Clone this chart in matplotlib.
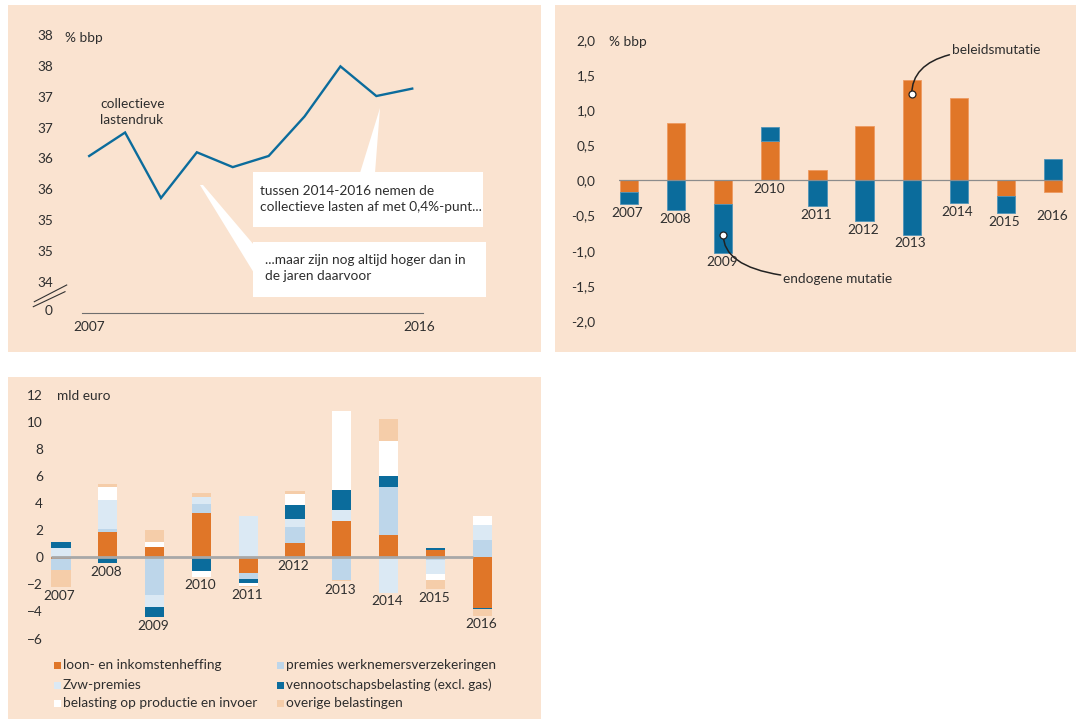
import numpy as np
import matplotlib
matplotlib.use("Agg")
import matplotlib.pyplot as plt
from matplotlib.patches import Rectangle, Polygon

plt.rcParams["font.family"] = ["Lato", "DejaVu Sans"]

# --- data -------------------------------------------------------------
years = [2007, 2008, 2009, 2010, 2011, 2012, 2013, 2014, 2015, 2016]

# collectieve lastendruk (% bbp)
lastendruk = [36.04, 36.42, 35.36, 36.10, 35.86, 36.04, 36.68, 37.49, 37.01, 37.13]

# mutatie lastendruk (% bbp)
beleidsmutatie = [-0.17, 0.82, -0.34, 0.565, 0.15, 0.77, 1.425, 1.18, -0.22, -0.17]
endogene_mutatie = [-0.17, -0.42, -0.69, 0.19, -0.36, -0.58, -0.77, -0.32, -0.24, 0.30]

# beleidsmatige lastenontwikkeling (mld euro)
loon_inkomsten = [-0.12, 1.90, 0.79, 3.30, -1.13, 1.08, 2.71, 1.68, 0.57, -3.77]
premies_wn = [-0.81, 0.22, -2.76, 0.67, -0.44, 1.18, -1.68, 3.55, -0.22, 1.31]
zvw_premies = [0.69, 2.12, -0.89, 0.52, 3.03, 0.59, 0.81, -2.61, -0.99, 1.11]
vpb = [0.47, -0.44, -0.74, -0.99, -0.32, 1.04, 1.48, 0.81, 0.15, -0.07]
productie_invoer = [0.0, 0.99, 0.37, -0.44, -0.20, 0.81, 5.84, 2.59, -0.44, 0.67]
overige = [-1.26, 0.22, 0.89, 0.30, -0.07, 0.22, -0.07, 1.63, -0.67, -0.47]

series_names = [
    "loon- en inkomstenheffing",
    "premies werknemersverzekeringen",
    "Zvw-premies",
    "vennootschapsbelasting (excl. gas)",
    "belasting op productie en invoer",
    "overige belastingen",
]

# --- style ------------------------------------------------------------
BG = "#FAE3D0"
ORANGE = "#E07628"
DARK = "#0B6C9C"
MID = "#BDD6EA"
PALE = "#DBE9F4"
WHITE = "#FFFFFF"
PEACH = "#F5CDA9"
TXT = "#2E2E2E"
FS = 9.8
series_colors = [ORANGE, MID, PALE, DARK, WHITE, PEACH]

W, H = 1078, 721
fig = plt.figure(figsize=(W / 100, H / 100), dpi=100)
fig.patch.set_facecolor("white")


def rect(l, t, r, b):
    return [l / W, 1 - b / H, (r - l) / W, (b - t) / H]


for l, t, r, b in [(8, 5, 541, 352), (555, 5, 1076, 352), (8, 377, 541, 719)]:
    fig.add_artist(Rectangle((l / W, 1 - b / H), (r - l) / W, (b - t) / H,
                             transform=fig.transFigure, facecolor=BG,
                             edgecolor="none", zorder=-1))


def clean(ax):
    ax.set_facecolor("none")
    for s in ax.spines.values():
        s.set_visible(False)
    ax.tick_params(length=0, labelsize=FS, labelcolor=TXT)


# --- top left: collectieve lastendruk -----------------------------------
ax1 = fig.add_axes(rect(82, 20, 423, 313))
clean(ax1)
ax1.plot(years, lastendruk, color=DARK, lw=1.7, solid_joinstyle="miter")
ax1.set_xlim(2006.8, 2016.3)
ax1.set_ylim(33.5, 38.24)
yt = np.arange(34.0, 38.01, 0.5)
ax1.set_yticks([33.55] + list(yt),
               ["0"] + [str(int(np.floor(v + 0.5))) for v in yt])
ax1.tick_params(axis="y", pad=21)
ax1.set_xticks([2007, 2016.2], ["2007", "2016"])
ax1.tick_params(axis="x", pad=6)
ax1.spines["bottom"].set_visible(True)
ax1.spines["bottom"].set_color("#6E6E6E")
ax1.spines["bottom"].set_linewidth(0.8)

# --- top right: mutaties ------------------------------------------------
ax2 = fig.add_axes(rect(619, 20, 1063, 335))
clean(ax2)
x = np.arange(len(years))
bw = 0.39
b_pol = np.array(beleidsmutatie)
e_end = np.array(endogene_mutatie)
ax2.bar(x, b_pol, bw, color=ORANGE, edgecolor="#EE9A60", lw=0.6, zorder=2)
e_base = np.where(np.sign(e_end) == np.sign(b_pol), b_pol, 0)
ax2.bar(x, e_end, bw, bottom=e_base, color=DARK, edgecolor="#4F93B8", lw=0.6, zorder=2)
ax2.axhline(0, color="#8C8C8C", lw=0.9, zorder=3)
ax2.set_xlim(-0.21, 9.21)
ax2.set_ylim(-2.2, 2.285)
yt2 = np.arange(-2.0, 2.01, 0.5)
ax2.set_yticks(yt2, [f"{v:.1f}".replace(".", ",") for v in yt2])
ax2.tick_params(axis="y", pad=17)
ax2.set_xticks([])

label_shift = {2016: 11}
low2 = np.minimum(0, np.minimum(b_pol, 0) + np.minimum(e_end, 0))
for xi, yr, lo in zip(x, years, low2):
    ax2.annotate(str(yr), (xi, lo), xytext=(-1, -2 - label_shift.get(yr, 0)),
                 textcoords="offset points", ha="center", va="top",
                 fontsize=FS, color=TXT)

ax2.annotate("beleidsmutatie", xy=(6, 1.225), xytext=(6.86, 1.86),
             fontsize=FS, color=TXT, va="center", ha="left",
             arrowprops=dict(arrowstyle="-", color="#222222", lw=1.1,
                             shrinkA=0, shrinkB=0,
                             connectionstyle="angle3,angleA=0,angleB=90"))
ax2.annotate("endogene mutatie", xy=(2, -0.77), xytext=(3.28, -1.4),
             fontsize=FS, color=TXT, va="center", ha="left",
             arrowprops=dict(arrowstyle="-", color="#222222", lw=1.1,
                             shrinkA=0, shrinkB=0,
                             connectionstyle="angle3,angleA=0,angleB=90"))
ax2.plot([6, 2], [1.225, -0.77], "o", ms=5, mfc="white", mec="#222222",
         mew=0.9, zorder=5)

# --- bottom: lastenontwikkeling in mld euro ------------------------------
ax3 = fig.add_axes(rect(50, 385, 500, 645))
clean(ax3)
bw3 = 0.41
data = np.array([loon_inkomsten, premies_wn, zvw_premies, vpb,
                 productie_invoer, overige])
pos = np.zeros(len(years))
neg = np.zeros(len(years))
for vals, col in zip(data, series_colors):
    base = np.where(vals >= 0, pos, neg)
    ax3.bar(x, vals, bw3, bottom=base, color=col, lw=0, zorder=2)
    pos += np.clip(vals, 0, None)
    neg += np.clip(vals, None, 0)
ax3.hlines(0, -bw3 / 2, 9 - bw3 / 2, color="#A8A8A8", lw=2, zorder=3)
ax3.set_xlim(-0.235, 9.38)
ax3.set_ylim(-6.48, 12.74)
ax3.set_yticks(np.arange(-6, 13, 2))
ax3.tick_params(axis="y", pad=5)
ax3.set_xticks([])
for xi, yr, lo in zip(x, years, neg):
    ax3.annotate(str(yr), (xi, lo), xytext=(-1, -2), textcoords="offset points",
                 ha="center", va="top", fontsize=FS, color=TXT)

# --- overlay: unit labels, callouts, legend -----------------------------
ov = fig.add_axes([0, 0, 1, 1], zorder=10)
ov.set_xlim(0, W)
ov.set_ylim(H, 0)
ov.axis("off")
ov.patch.set_visible(False)

ov.text(65, 38, "% bbp", fontsize=FS, color=TXT, va="center")
ov.text(609, 42, "% bbp", fontsize=FS, color=TXT, va="center")
ov.text(57, 396, "mld euro", fontsize=FS, color=TXT, va="center")

ov.text(100, 112, "collectieve\nlastendruk", fontsize=FS, color=TXT,
        va="center", linespacing=1.3)

# axis break marks
ov.plot([34.3, 66.7], [301.7, 285], color="#333333", lw=0.8)
ov.plot([33.3, 65], [306.7, 291.7], color="#333333", lw=0.8)

ov.add_patch(Polygon([(360, 173), (375, 173), (380, 108)], color="white", lw=0))
ov.add_patch(Polygon([(200, 185), (203, 185), (254, 245), (254, 273)],
                     color="white", lw=0))
ov.add_patch(Rectangle((253, 172), 230, 55, color="white", lw=0))
ov.add_patch(Rectangle((253, 242), 233, 55, color="white", lw=0))
ov.text(260, 199, "tussen 2014-2016 nemen de\ncollectieve lasten af met 0,4%-punt...",
        fontsize=FS, color=TXT, va="center", linespacing=1.35)
ov.text(265, 268, "...maar zijn nog altijd hoger dan in\nde jaren daarvoor",
        fontsize=FS, color=TXT, va="center", linespacing=1.35)

legend_pos = [(54, 665), (277, 665), (54, 685), (277, 685), (54, 703), (277, 703)]
for (lx, ly), name, col in zip(legend_pos, series_names, series_colors):
    ov.add_patch(Rectangle((lx, ly - 3.5), 6.5, 7, color=col, lw=0))
    ov.text(lx + 9, ly, name, fontsize=FS, color=TXT, va="center")

fig.savefig("out.png", dpi=100)
plt.close(fig)
